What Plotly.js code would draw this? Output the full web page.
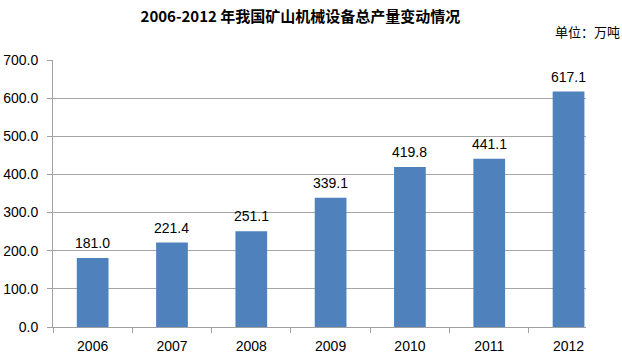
<!DOCTYPE html>
<html><head><meta charset="utf-8">
<script src="https://cdn.plot.ly/plotly-3.0.1.min.js"></script>
<style>body{margin:0;background:#fff}#c{width:622px;height:363px}</style>
</head><body><div id="c"></div>
<script>
const years = ['2006','2007','2008','2009','2010','2011','2012'];
const output = [181.0, 221.4, 251.1, 339.1, 419.8, 441.1, 617.1];
const yTicks = [0,100,200,300,400,500,600,700];

const font = 'Liberation Sans, Arial, sans-serif';
const trace = {
  type: 'bar', x: years, y: output,
  marker: {color: '#4F81BD'}, hoverinfo: 'none'
};
const annotations = output.map((v, i) => ({
  x: i, y: v, xref: 'x', yref: 'y', text: v.toFixed(1), showarrow: false,
  yanchor: 'bottom', yshift: 5, font: {family: font, size: 14, color: '#000'}
}));
annotations.push({
  xref: 'paper', yref: 'paper', x: 1.0675, y: 1.0, yshift: 29, xanchor: 'right', yanchor: 'middle',
  text: '单位：万吨', showarrow: false,
  font: {family: 'Noto Sans CJK SC', size: 13, color: '#000'}
});
const layout = {
  width: 622, height: 363,
  margin: {l: 53, r: 36, t: 60, b: 36},
  paper_bgcolor: '#fff', plot_bgcolor: '#fff',
  title: {text: '<b>2006-2012 年我国矿山机械设备总产量变动情况</b>', x: 0.483, xanchor: 'center', y: 0.953, yanchor: 'middle',
    font: {family: 'Noto Sans CJK SC', size: 15, color: '#000'}},
  bargap: 0.6,
  showlegend: false,
  xaxis: {
    type: 'category', range: [-0.5, 6.22],
    showgrid: false, showline: true, linecolor: '#a0a0a0', linewidth: 1,
    ticks: 'outside', tickson: 'boundaries', ticklen: 5, tickcolor: '#a0a0a0',
    tickfont: {family: font, size: 14, color: '#000'}, ticklabelstandoff: 6, zeroline: false
  },
  yaxis: {
    range: [0, 700], tickmode: 'array', tickvals: yTicks, ticktext: yTicks.map(v => v.toFixed(1)),
    showgrid: true, gridcolor: '#a6a6a6', gridwidth: 1,
    showline: true, linecolor: '#a0a0a0', linewidth: 1,
    ticks: 'outside', ticklen: 5, tickcolor: '#a0a0a0',
    tickfont: {family: font, size: 14, color: '#000'}, ticklabelstandoff: 6, zeroline: false
  },
  annotations: annotations
};
Plotly.newPlot('c', [trace], layout, {staticPlot: true});
</script></body></html>
